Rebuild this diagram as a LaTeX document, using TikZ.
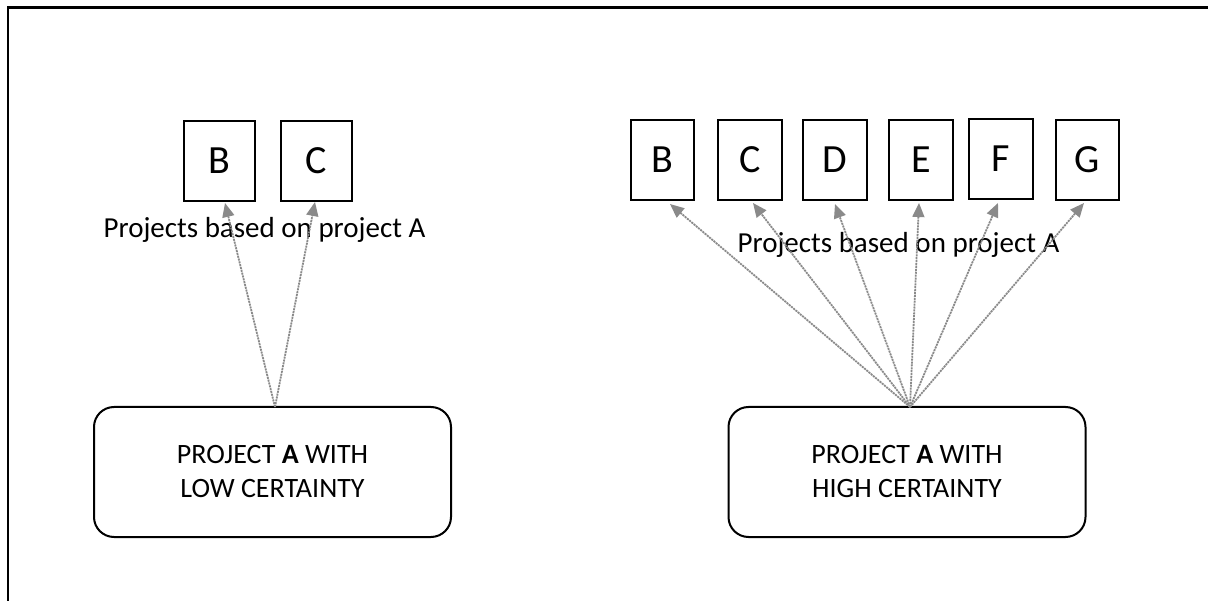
\documentclass[tikz,border=0pt]{standalone}
\usepackage{fontspec}
\setmainfont{Carlito}
\usetikzlibrary{arrows.meta}
\definecolor{linkgray}{HTML}{8A8A8A}
\tikzset{
  letterbox/.style={draw, line width=2pt, minimum width=#1, minimum height=80pt,
    inner sep=0pt, font=\fontsize{40}{48}\selectfont},
  letterbox/.default=71pt,
  projbox/.style={draw, line width=2pt, rounded corners=20pt, minimum width=357pt,
    minimum height=130pt, align=center, inner sep=0pt,
    font=\fontsize{28}{34}\selectfont},
  caption/.style={anchor=base, inner sep=0pt, font=\fontsize{29}{34}\selectfont},
  link/.style={draw=linkgray, line width=1.8pt, dash pattern=on 2pt off 0.9pt,
    -{Triangle[length=14pt,width=12pt]}, fill=linkgray},
}
\begin{document}
\begin{tikzpicture}[x=1pt, y=-1pt]
  \useasboundingbox (0,0) rectangle (1208,601);
  % outer frame (top and left edges)
  \draw[line width=2.5pt] (8,601) -- (8,7.5) -- (1208,7.5);

  % low certainty group
  \node[letterbox] (lB) at (219.5,161) {B};
  \node[letterbox] (lC) at (316.5,161) {C};
  \node[caption] (lcap) at (264.5,238) {Projects based on project A};
  \node[projbox] (low) at (272.5,472) {PROJECT \textbf{A} WITH\\LOW CERTAINTY};
  \coordinate (lo) at (275,407);
  \coordinate (lBt) at (225,203);
  \coordinate (lCt) at (315,202);
  \draw[link] (lo) -- (lBt);
  \draw[link] (lo) -- (lCt);

  % high certainty group
  \node[letterbox=63pt] (rB) at (662.5,160) {B};
  \node[letterbox=64pt] (rC) at (750,160) {C};
  \node[letterbox=64pt] (rD) at (835,160) {D};
  \node[letterbox=64pt] (rE) at (921,160) {E};
  \node[letterbox=64pt] (rF) at (1001,159) {F};
  \node[letterbox=63pt] (rG) at (1087.5,160) {G};
  \node[caption] (rcap) at (898.5,253) {Projects based on project A};
  \node[projbox] (high) at (907,472) {PROJECT \textbf{A} WITH\\HIGH CERTAINTY};
  \coordinate (ro) at (910,407);
  \coordinate (rBt) at (670,204);
  \coordinate (rCt) at (753,203);
  \coordinate (rDt) at (835,204);
  \coordinate (rEt) at (919,203);
  \coordinate (rFt) at (998,203);
  \coordinate (rGt) at (1084,203);
  \foreach \t in {rBt,rCt,rDt,rEt,rFt,rGt}
    \draw[link] (ro) -- (\t);
\end{tikzpicture}
\end{document}
